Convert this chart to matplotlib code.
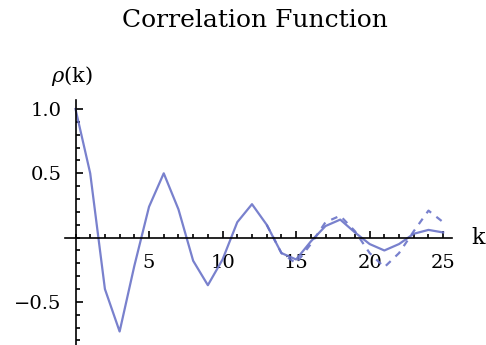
import matplotlib
matplotlib.use("Agg")
import matplotlib.pyplot as plt
from matplotlib.ticker import MultipleLocator, FixedLocator

lags = list(range(26))
rho_sample = [1.0, 0.5, -0.4, -0.73, -0.22, 0.24, 0.50, 0.22, -0.18, -0.37,
              -0.17, 0.12, 0.26, 0.10, -0.12, -0.17, -0.03, 0.09, 0.14, 0.04,
              -0.05, -0.10, -0.05, 0.03, 0.06, 0.04]
lags_dashed = list(range(13, 26))
rho_dashed = [0.10, -0.12, -0.20, -0.05, 0.12, 0.17, 0.05, -0.12, -0.23,
              -0.12, 0.05, 0.21, 0.12]
x_ticks = [5, 10, 15, 20, 25]
y_ticks = [-0.5, 0.5, 1.0]
y_tick_labels = ["\u22120.5", "0.5", "1.0"]

plt.rcParams['font.family'] = ['DejaVu Serif']
plt.rcParams['mathtext.fontset'] = 'dejavuserif'

fig = plt.figure(figsize=(4.86, 3.45), dpi=100)
ax = fig.add_axes([65/486, 0.0, 387/486, 245/345])
ax.set_xlim(-0.714, 25.6)
ax.set_ylim(-0.835, 1.07)

col = '#6a73c8'
ax.plot(lags, rho_sample, color=col, lw=1.6, alpha=0.9)
ax.plot(lags_dashed, rho_dashed, color=col, lw=1.6, ls=(0, (3, 3)), alpha=0.9)

for s in ['top', 'right']:
    ax.spines[s].set_visible(False)
ax.spines['left'].set_position(('data', 0))
ax.spines['bottom'].set_position(('data', 0))
ax.spines['left'].set_linewidth(1.2)
ax.spines['bottom'].set_linewidth(1.2)

ax.xaxis.set_major_locator(FixedLocator(x_ticks))
ax.xaxis.set_minor_locator(MultipleLocator(1))
ax.yaxis.set_major_locator(FixedLocator(y_ticks))
ax.yaxis.set_minor_locator(MultipleLocator(0.1))
ax.set_yticklabels(y_tick_labels)
ax.tick_params(axis='x', which='major', direction='in', length=5, width=1.2,
               labelsize=14, pad=12)
ax.tick_params(axis='x', which='minor', direction='in', length=3, width=1.2)
ax.tick_params(axis='y', which='major', direction='in', length=5, width=1.2,
               labelsize=14, pad=10)
ax.tick_params(axis='y', which='minor', direction='in', length=3, width=1.2)

ax.text(-0.25, 1.256, r'$\rho$(k)', fontsize=15, ha='center', va='center')
ax.text(27.4, 0.0, 'k', fontsize=16, ha='center', va='center')

fig.text(0.525, 0.94, 'Correlation Function', fontsize=18, ha='center', va='center')

fig.savefig('out.png', dpi=100)
